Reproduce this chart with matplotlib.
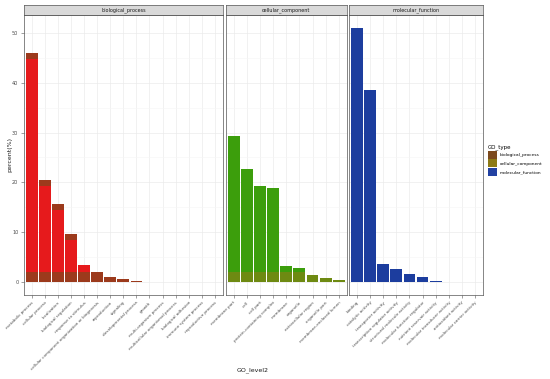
import matplotlib
matplotlib.use("Agg")
import matplotlib.pyplot as plt
from matplotlib.patches import Patch

# GO level 2 categories and percent per category
bp_terms = ["metabolic process", "cellular process", "localization", "biological regulation",
            "response to stimulus", "cellular component organization or biogenesis",
            "reproduction", "signaling", "developmental process", "growth",
            "multi-organism process", "multicellular organismal process",
            "biological adhesion", "immune system process", "reproductive process"]
bp_pct = [46.0, 20.4, 15.6, 9.7, 3.4, 2.0, 1.0, 0.6, 0.25, 0.15, 0.06, 0.05, 0.04, 0.03, 0.02]

cc_terms = ["membrane part", "cell", "cell part", "protein-containing complex", "membrane",
            "organelle", "extracellular region", "organelle part", "membrane-enclosed lumen"]
cc_pct = [29.3, 22.6, 19.2, 18.8, 3.2, 2.8, 1.4, 0.9, 0.5]

mf_terms = ["binding", "catalytic activity", "transporter activity",
            "transcription regulator activity", "structural molecule activity",
            "molecular function regulator", "nutrient reservoir activity",
            "molecular transducer activity", "antioxidant activity", "molecular carrier activity"]
mf_pct = [51.0, 38.6, 3.7, 2.7, 1.6, 1.1, 0.3, 0.15, 0.1, 0.05]

go_types = ["biological_process", "cellular_component", "molecular_function"]
bar_cols = ["#e61a1c", "#3c9e0c", "#1c3d9e"]
band_cols = ["#9c3a1c", "#6e8a12", "#1c3d9e"]
legend_cols = ["#7c4a1e", "#8c7a16", "#2241a2"]

facets = [(bp_terms, bp_pct), (cc_terms, cc_pct), (mf_terms, mf_pct)]

W, H = 550, 379
fig = plt.figure(figsize=(W / 100, H / 100), dpi=100)

# panel extents in pixels
panel_x = [(24, 222.7), (225.7, 346.7), (349.3, 482.7)]
top, bottom, strip_top = 15, 295, 5

ymax = max(max(p) for _, p in facets)
ylo, yhi = -0.05 * ymax, ymax * 1.05

grid_major = "#ebebeb"
grid_minor = "#f5f5f5"

for i, ((terms, pct), (x0, x1)) in enumerate(zip(facets, panel_x)):
    ax = fig.add_axes([x0 / W, 1 - bottom / H, (x1 - x0) / W, (bottom - top) / H])
    n = len(terms)
    xs = list(range(n))
    ax.bar(xs, pct, width=0.9, color=bar_cols[i], zorder=3)
    if i < 2:
        band = [min(v, 2.0) for v in pct]
        ax.bar(xs, band, width=0.9, color=band_cols[i], zorder=4)
    if i == 0:
        cap = [min(v, 1.2) if v > 4 else 0 for v in pct]
        ax.bar(xs, cap, bottom=[v - c for v, c in zip(pct, cap)], width=0.9,
               color=band_cols[i], zorder=4)
    ax.set_xlim(-0.6, n - 0.4)
    ax.set_ylim(ylo, yhi)
    ax.set_yticks([0, 10, 20, 30, 40, 50])
    ax.set_yticks([5, 15, 25, 35, 45], minor=True)
    ax.grid(True, which="major", color=grid_major, lw=0.5, zorder=0)
    ax.grid(True, which="minor", axis="y", color=grid_minor, lw=0.4, zorder=0)
    ax.set_axisbelow(True)
    ax.set_xticks(xs)
    ax.set_xticklabels(terms, rotation=45, ha="right", va="top",
                       rotation_mode="anchor", fontsize=3.0, color="#4d4d4d")
    ax.tick_params(axis="both", length=2, width=0.4, color="#555555", pad=2)
    ax.tick_params(which="minor", length=0)
    if i == 0:
        ax.tick_params(axis="y", labelsize=3.6, labelcolor="#4d4d4d")
    else:
        ax.tick_params(axis="y", left=False, labelleft=False)
    for s in ax.spines.values():
        s.set_color("#555555")
        s.set_linewidth(0.5)

    # facet strip
    sax = fig.add_axes([x0 / W, 1 - top / H, (x1 - x0) / W, (top - strip_top) / H])
    sax.set_facecolor("#d9d9d9")
    sax.set_xticks([])
    sax.set_yticks([])
    for s in sax.spines.values():
        s.set_color("#555555")
        s.set_linewidth(0.5)
    sax.text(0.5, 0.5, go_types[i], ha="center", va="center", fontsize=3.5,
             color="#1a1a1a", transform=sax.transAxes)

fig.text(10 / W, 1 - 155 / H, "percent(%)", rotation=90, ha="center", va="center",
         fontsize=4.5, color="#1a1a1a")
fig.text(253 / W, 1 - 370 / H, "GO_level2", ha="center", va="center",
         fontsize=4.5, color="#1a1a1a")

handles = [Patch(facecolor=c, edgecolor="none") for c in legend_cols]
fig.legend(handles, go_types, title="GO_type", loc="upper left",
           bbox_to_anchor=(484 / W, 1 - 141 / H), frameon=False, fontsize=3.2,
           title_fontsize=4.0, handlelength=2.2, handleheight=2.4,
           labelspacing=0.1, handletextpad=0.5, borderpad=0.3, alignment="left")

fig.savefig("out.png", dpi=100, facecolor="white")
